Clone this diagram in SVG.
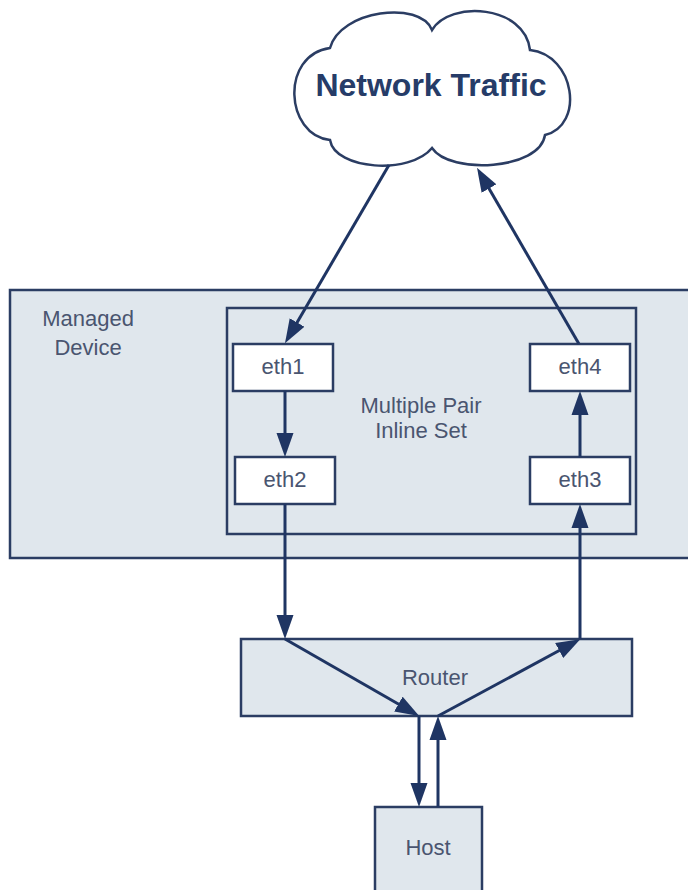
<svg xmlns="http://www.w3.org/2000/svg" width="688" height="890" viewBox="0 0 688 890">
  <style>
    .box { fill: #e0e7ed; stroke: #2b3d63; stroke-width: 2.5; }
    .port { fill: #ffffff; stroke: #2b3d63; stroke-width: 2.5; }
    .lbl { font-family: "Liberation Sans", Arial, sans-serif; font-size: 22px; fill: #4a5570; text-anchor: middle; }
    .title { font-family: "Liberation Sans", Arial, sans-serif; font-size: 32px; font-weight: bold; fill: #263c68; text-anchor: middle; }
    .conn { stroke: #1f3563; stroke-width: 3; fill: none; }
  </style>
  <defs>
    <marker id="arr" markerUnits="userSpaceOnUse" markerWidth="24" markerHeight="18" refX="18" refY="9" orient="auto">
      <path d="M0,0.5 L24,9 L0,17.5 z" fill="#1f3563"/>
    </marker>
  </defs>
  <rect width="688" height="890" fill="#ffffff"/>

  <g id="cloud">
    <path d="M330,48 C340,10 420,0 432,30 C450,0 525,5 530,50 C575,55 585,125 545,135 C540,170 450,175 432,148 C410,175 335,170 330,140 C285,135 280,55 330,48 Z" fill="#ffffff" stroke="#2b3d63" stroke-width="2.5"/>
    <text class="title" x="431" y="96">Network Traffic</text>
  </g>

  <g id="managed-device">
    <rect class="box" x="10" y="290" width="700" height="268"/>
    <text class="lbl" x="88" y="326">Managed</text>
    <text class="lbl" x="88" y="355">Device</text>
  </g>

  <g id="inline-set">
    <rect class="box" x="227" y="308" width="409" height="226"/>
    <text class="lbl" x="421" y="413">Multiple Pair</text>
    <text class="lbl" x="421" y="438">Inline Set</text>
  </g>

  <g id="eth1">
    <rect class="port" x="233" y="344" width="100" height="47"/>
    <text class="lbl" x="283" y="374">eth1</text>
  </g>
  <g id="eth2">
    <rect class="port" x="235" y="457" width="100" height="47"/>
    <text class="lbl" x="285" y="487">eth2</text>
  </g>
  <g id="eth4">
    <rect class="port" x="530" y="344" width="100" height="47"/>
    <text class="lbl" x="580" y="374">eth4</text>
  </g>
  <g id="eth3">
    <rect class="port" x="530" y="457" width="100" height="47"/>
    <text class="lbl" x="580" y="487">eth3</text>
  </g>

  <g id="router">
    <rect class="box" x="241" y="639" width="391" height="77"/>
    <text class="lbl" x="435" y="685">Router</text>
  </g>

  <g id="host">
    <rect class="box" x="375" y="807" width="107" height="100"/>
    <text class="lbl" x="428" y="855">Host</text>
  </g>

  <g id="connectors">
    <line class="conn" x1="389" y1="165" x2="288" y2="338" marker-end="url(#arr)"/>
    <line class="conn" x1="285" y1="391" x2="285" y2="451" marker-end="url(#arr)"/>
    <line class="conn" x1="285" y1="504" x2="285" y2="633" marker-end="url(#arr)"/>
    <line class="conn" x1="285" y1="639" x2="414" y2="713" marker-end="url(#arr)"/>
    <line class="conn" x1="419" y1="716" x2="419" y2="801" marker-end="url(#arr)"/>
    <line class="conn" x1="438" y1="807" x2="438" y2="722" marker-end="url(#arr)"/>
    <line class="conn" x1="438" y1="716" x2="575" y2="642" marker-end="url(#arr)"/>
    <line class="conn" x1="580" y1="639" x2="580" y2="510" marker-end="url(#arr)"/>
    <line class="conn" x1="580" y1="457" x2="580" y2="397" marker-end="url(#arr)"/>
    <line class="conn" x1="579" y1="344" x2="480" y2="173" marker-end="url(#arr)"/>
  </g>
</svg>
